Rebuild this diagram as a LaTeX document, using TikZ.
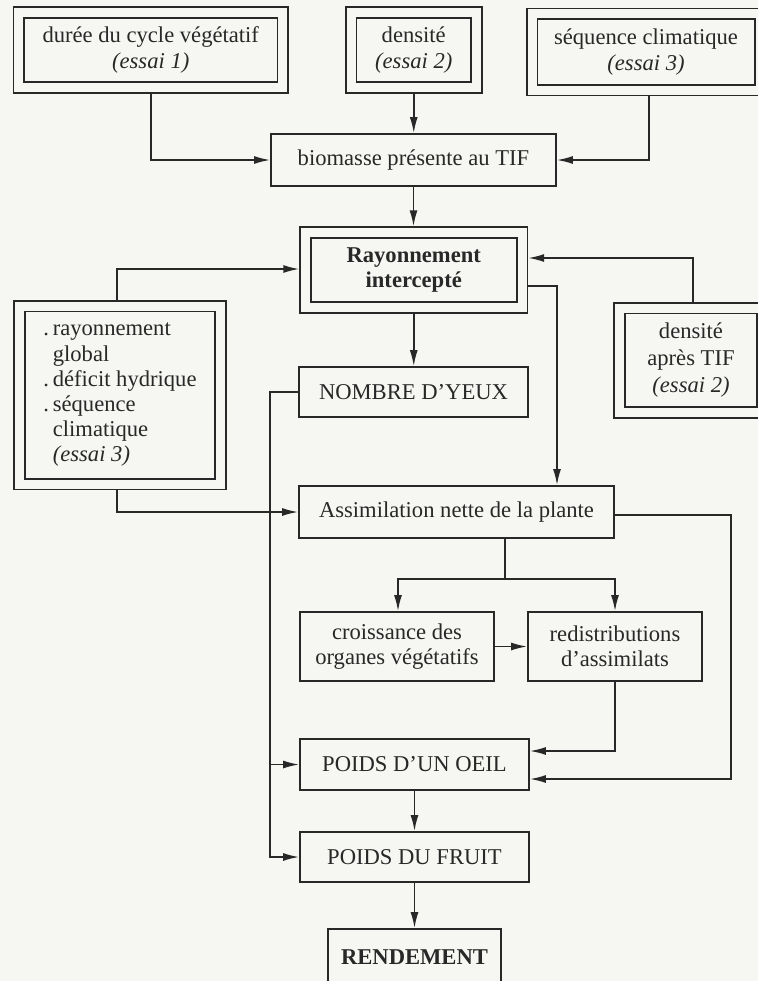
\documentclass[tikz,border=0pt]{standalone}
\usepackage{fontspec}
\setmainfont{Liberation Serif}
\usepackage{tikz}
\usetikzlibrary{arrows.meta,positioning}
\definecolor{paper}{RGB}{246,246,243}
\definecolor{ink}{RGB}{40,40,40}
\tikzset{
  box/.style={draw=ink, fill=paper, line width=0.85pt, inner sep=2pt, align=center, text=ink,
    font=\fontsize{11.3}{12.6}\selectfont, minimum width=#1},
  box/.default=100pt,
  dbox/.style={box=#1, double=paper, double distance=4.5pt, outer sep=3.1pt},
  dbox/.default=100pt,
  map/.style={-{Latex[length=8pt, width=4pt]}, line width=0.85pt, draw=ink},
}

\begin{document}
\begin{tikzpicture}[x=0.5pt, y=-0.5pt]
  \fill[paper] (0,0) rectangle (758,981);
  \useasboundingbox (0,0) rectangle (758,981);
  % sources (essais)
  \node[dbox=132pt, minimum height=37.5pt] (cycle) at (150.75,50) {durée du cycle végétatif\\ \textit{(essai 1)}};
  \node[dbox=62.75pt, minimum height=37.5pt] (dens) at (413.75,50) {densité\\ \textit{(essai 2)}};
  \node[dbox=114pt, minimum height=38.25pt] (seqclim) at (646,52) {séquence climatique\\ \textit{(essai 3)}};
  \node[box=142.5pt, minimum height=26pt] (bio) at (413.5,160) {biomasse présente au TIF};
  \node[dbox=108.25pt, minimum height=37.5pt, font=\fontsize{11.3}{12.6}\selectfont\bfseries] (ray) at (413.75,270) {Rayonnement\\ intercepté};
  \node[dbox=100.5pt, minimum height=89pt, align=left] (climat) at (120,395) {.\,rayonnement\\ \hphantom{.\,}global\\ .\,déficit hydrique\\ .\,séquence\\ \hphantom{.\,}climatique\\ \hphantom{.\,}\textit{(essai 3)}};
  \node[dbox=71.5pt, minimum height=52.25pt, font=\fontsize{11.3}{13.4}\selectfont] (dapres) at (691,360.25) {densité\\ après TIF\\ \textit{(essai 2)}};
  % composantes du rendement
  \node[box=114.5pt, minimum height=25pt] (yeux) at (413.5,392) {NOMBRE D'YEUX};
  \node[box=157.5pt, minimum height=26pt] (assim) at (456.5,512) {Assimilation nette de la plante};
  \node[box=97pt, minimum height=34.5pt] (crois) at (397,646.5) {croissance des\\ organes végétatifs};
  \node[box=87pt, minimum height=34.5pt] (redis) at (615,646.5) {redistributions\\ d'assimilats};
  \node[box=114.5pt, minimum height=25.5pt] (oeil) at (414.5,764.5) {POIDS D'UN OEIL};
  \node[box=114.5pt, minimum height=25pt] (fruit) at (414.5,857) {POIDS DU FRUIT};
  \node[box=86.5pt, minimum height=28pt, font=\fontsize{11.3}{12.6}\selectfont\bfseries] (rdt) at (414.5,957) {RENDEMENT};
  % liaisons
  \draw[map] (cycle.south) |- (bio.west);
  \draw[map] (dens.south) -- (dens.south |- bio.north);
  \draw[map] ([xshift=1.5pt]seqclim.south) |- (bio.east);
  \draw[map] (bio.south) -- (bio.south |- ray.north);
  \draw[map] ([xshift=-1.5pt]climat.north) |- ([yshift=0.5pt]ray.west);
  \draw[map] ([xshift=-1.5pt]climat.south) |- (assim.west);
  \draw[map] ([xshift=1pt]dapres.north) |- ([yshift=6pt]ray.east);
  \draw[map] ([yshift=-8pt]ray.east) -| ([xshift=50.25pt]assim.north);
  \draw[map] (ray.south) -- (ray.south |- yeux.north);
  \draw[map] (yeux.west) -- ++(-14pt,0) |- (fruit.west);
  \draw[map] ([xshift=-14pt]oeil.west) -- (oeil.west);
  \draw[map] ([xshift=24.25pt]assim.south) -- ++(0,-20pt) -| ([xshift=0.5pt]crois.north);
  \draw[map] ([xshift=24.25pt]assim.south) -- ++(0,-20pt) -| (redis.north);
  \draw[map] (crois.east) -- (redis.west);
  \draw[map] (redis.south) |- ([yshift=6.75pt]oeil.east);
  \draw[map] ([yshift=-1.5pt]assim.east) -- ++(58pt,0) |- ([yshift=-7.25pt]oeil.east);
  \draw[map] (oeil.south) -- (fruit.north);
  \draw[map] (fruit.south) -- (rdt.north);
\end{tikzpicture}
\end{document}
